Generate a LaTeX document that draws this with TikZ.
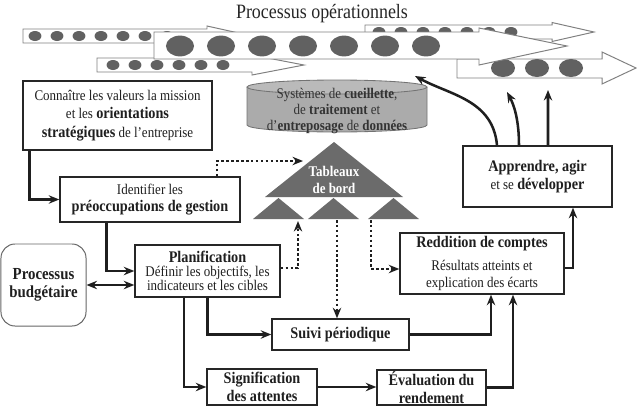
\documentclass[tikz,border=0pt]{standalone}
\usepackage{fontspec}
\setmainfont{Liberation Serif}[FakeStretch=0.88]
\usetikzlibrary{arrows.meta,calc}
\newcommand\motcle[1]{{\fontsize{11.5}{12}\selectfont\bfseries #1}}

\begin{document}
\begin{tikzpicture}[x=0.025cm,y=-0.025cm,
  box/.style={draw=black!85,line width=1pt,fill=white,align=center,inner sep=1pt,
    text=black!88,font=\fontsize{10.5}{12.5}\selectfont},
  flow/.style={line width=1.8pt,draw=black!88,-{Stealth[length=7.5pt,width=6pt,inset=2.5pt]}},
  dflow/.style={flow,{Stealth[length=7.5pt,width=6pt,inset=2.5pt]}-{Stealth[length=7.5pt,width=6pt,inset=2.5pt]}},
  dots/.style={line width=1.8pt,draw=black!88,dash pattern=on 1.8pt off 1.7pt,
    -{Stealth[length=7.5pt,width=6pt,inset=2.5pt]}},
  procarrow/.style={draw=black!50,line width=0.7pt,fill=white},
  bille/.style={fill=black!62},
  tri/.style={fill=black!58}]
\useasboundingbox (0,0) rectangle (637,415);

\node[font=\fontsize{14.5}{16}\selectfont,text=black!85] (titre) at (322,14) {Processus opérationnels};

\draw[procarrow] (365,25) -- (552,25) -- (552,22.5) -- (594,32) -- (552,41.5) -- (552,39) -- (365,39) -- cycle;
\foreach \x in {379,401,...,511} \fill[bille] (\x,32) ellipse [x radius=0.16cm,y radius=0.125cm];
\draw[procarrow] (23,29) -- (207,29) -- (207,26) -- (252,36) -- (207,46) -- (207,43) -- (23,43) -- cycle;
\foreach \x in {35,57,...,167} \fill[bille] (\x,36) ellipse [x radius=0.16cm,y radius=0.125cm];
\draw[procarrow] (97,58) -- (252,58) -- (252,55) -- (304,65) -- (252,75) -- (252,72) -- (97,72) -- cycle;
\foreach \x in {113,135,...,223} \fill[bille] (\x,65) ellipse [x radius=0.16cm,y radius=0.125cm];
\draw[procarrow] (457,59) -- (602,59) -- (602,52) -- (636,68) -- (602,84) -- (602,78) -- (457,78) -- cycle;
\foreach \x in {503,537,571} \fill[bille] (\x,68) ellipse [x radius=0.3cm,y radius=0.225cm];
\draw[procarrow] (154,32) -- (479,32) -- (479,28) -- (567,46) -- (479,65) -- (479,59) -- (154,59) -- cycle;
\foreach \x in {180,221,...,426} \fill[bille] (\x,46) ellipse [x radius=0.35cm,y radius=0.26cm];

\path[draw=black!55,fill=black!33,line width=0.6pt] (247,87) -- (247,125)
  arc[start angle=180,end angle=360,x radius=2.25cm,y radius=0.175cm] -- (427,87);
\draw[draw=black!55,fill=black!27,line width=0.6pt] (337,87) ellipse [x radius=2.25cm,y radius=0.175cm];
\node[align=center,text=black!80,font=\fontsize{10.5}{11.5}\selectfont] (cyl) at (337,111)
  {Systèmes de \textbf{cueillette},\\de \textbf{traitement} et\\d’\textbf{entreposage} de \textbf{données}};

\fill[tri] (334,142) -- (403,197) -- (265,197) -- cycle;
\fill[tri] (278.5,198) -- (304,219) -- (253,219) -- cycle;
\fill[tri] (333.5,198) -- (359,219) -- (308,219) -- cycle;
\fill[tri] (393.5,198) -- (419,219) -- (368,219) -- cycle;
\node[align=center,text=white,font=\fontsize{10.5}{11.5}\selectfont\bfseries] (tab) at (334,180) {Tableaux\\de bord};
\coordinate (tabin) at (303,161);
\coordinate (tri1) at (298,221);
\coordinate (tri2) at (337,220);
\coordinate (tri3) at (371,220);

\node[box,minimum width=4.725cm,minimum height=1.725cm,font=\fontsize{10.5}{13}\selectfont] (conn) at (117.5,115.5)
  {Connaître les valeurs la mission\\et les \motcle{orientations}\\\motcle{stratégiques} de l’entreprise};
\node[box,minimum width=4.5cm,minimum height=1.125cm] (ident) at (150,199.5)
  {Identifier les\\\motcle{préoccupations de gestion}};
\node[box,minimum width=3.625cm,minimum height=1.3cm,font=\fontsize{10.5}{10}\selectfont] (plan) at (207.5,271)
  {\motcle{Planification}\\Définir les objectifs, les\\indicateurs et les cibles};
\node[box,draw=black!60,line width=0.7pt,rounded corners=10pt,minimum width=2.125cm,minimum height=2.05cm,
  font=\fontsize{12}{13}\selectfont\bfseries] (budget) at (43.5,285)
  {Processus\\budgétaire};
\node[box,minimum width=3.425cm,minimum height=0.775cm] (suivi) at (340.5,334.5) {\motcle{Suivi périodique}};
\node[box,minimum width=2.75cm,minimum height=0.9cm] (signif) at (262,387) {\motcle{Signification}\\\motcle{des attentes}};
\node[box,minimum width=2.725cm,minimum height=0.875cm] (eval) at (431.5,387.5) {\motcle{Évaluation du}\\\motcle{rendement}};
\node[box,minimum width=4.1cm,minimum height=1.525cm] (reddit) at (482,263.5)
  {\motcle{Reddition de comptes}\\[4pt]Résultats atteints et\\explication des écarts};
\node[box,minimum width=3.725cm,minimum height=1.525cm] (appr) at (537.5,176.5)
  {\motcle{Apprendre, agir}\\et se \motcle{développer}};

\coordinate (proc1) at (415,76);
\coordinate (proc2) at (507,92);
\coordinate (proc3) at (548,90);

\draw[flow] ($(conn.south west)+(7,0)$) |- (ident.west);
\draw[flow] ($(ident.south west)+(47,0)$) |- (plan.west);
\draw[dflow] (budget.east) -- (budget.east -| plan.west);
\draw[flow] (plan.south) |- (suivi.west);
\draw[flow] ($(plan.south)+(-23.5,0)$) |- (signif.west);
\draw[flow] (signif.east) -- (signif.east -| eval.west);
\draw[flow] (suivi.east) -| ($(reddit.south)+(9,0)$);
\draw[flow] (eval.east) -| ($(reddit.south)+(31,0)$);
\draw[flow] ($(reddit.east)+(0,4.5)$) -| ($(appr.south)+(35.5,0)$);
\draw[flow] ($(appr.north)+(-40.5,0)$) .. controls (493,100) and (450,95) .. (proc1);
\draw[flow] ($(appr.north)+(-18.5,0)$) .. controls (519,120) and (514,105) .. (proc2);
\draw[flow] ($(appr.north)+(10.5,0)$) -- (proc3);

\draw[dots] ($(ident.north)+(67,0)$) |- (tabin);
\draw[dots] ($(plan.east)+(0,-3)$) -| (tri1);
\draw[dots] (tri2) -- (tri2 |- suivi.north);
\draw[dots] (tri3) |- ($(reddit.west)+(0,5.5)$);
\end{tikzpicture}
\end{document}
